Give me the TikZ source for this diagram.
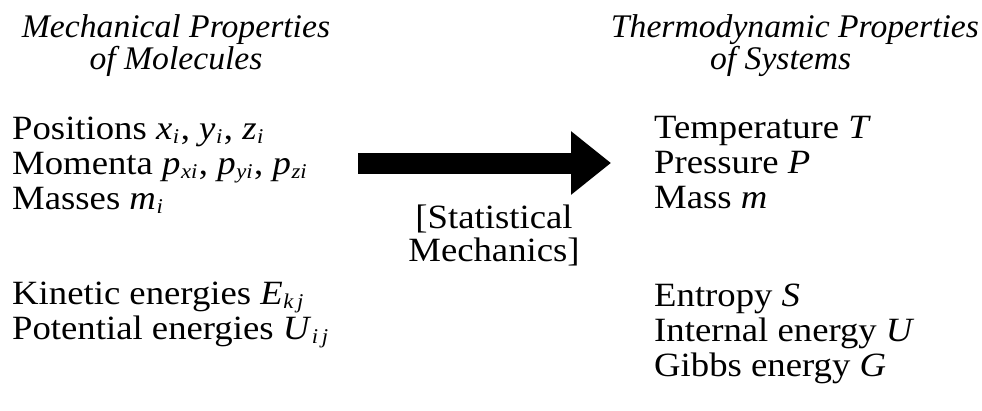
\documentclass[tikz,border=0pt]{standalone}
\usepackage{fontspec}
\setmainfont{Liberation Serif}
\usetikzlibrary{arrows.meta}
\newcommand{\sbi}[1]{\kern0.5pt\raisebox{-0.3ex}{\fontsize{21}{21}\selectfont\itshape #1}\kern1.5pt}
\newcommand{\wideb}[1]{\scalebox{1.08}[1]{#1}}
\newcommand{\widet}[1]{\scalebox{1.02}[1]{#1}}
\tikzset{
  col/.style={inner sep=0pt, anchor=base west, font=\fontsize{34}{35}\selectfont},
  ttl/.style={inner sep=0pt, anchor=base, font=\fontsize{33}{32}\selectfont\itshape},
  lbl/.style={inner sep=0pt, anchor=base, font=\fontsize{34}{32.5}\selectfont},
  bigarrow/.style={line width=21pt, -{Triangle[length=40pt,width=61pt]}}
}
\begin{document}
\begin{tikzpicture}[x=1pt,y=-1pt]
\useasboundingbox[fill=white] (0,0) rectangle (982,410);
% titles
\node[ttl] (tl) at (176,37) {\widet{\begin{tabular}[t]{@{}c@{}}Mechanical Properties\\ of Molecules\end{tabular}}};
\node[ttl] (tr) at (795,37) {\widet{\begin{tabular}[t]{@{}c@{}}Thermodynamic Properties\\ of Systems\hspace*{28pt}\end{tabular}}};
% left column
\node[col] (left) at (12,139) {\wideb{\begin{tabular}[t]{@{}l@{}}
Positions \textit{x}\sbi{i}, \textit{y}\sbi{i}, \textit{z}\sbi{i}\\
Momenta \textit{p}\sbi{xi}, \textit{p}\sbi{yi}, \textit{p}\sbi{zi}\\
Masses \textit{m}\sbi{i}\\[60pt]
Kinetic energies \textit{E}\sbi{k\,j}\\
Potential energies \textit{U}\sbi{i\,j}
\end{tabular}}};
% right column
\node[col] (right) at (654,138) {\wideb{\begin{tabular}[t]{@{}l@{}}
Temperature \textit{T}\\
Pressure \textit{P}\\
Mass \textit{m}\\[63pt]
Entropy \textit{S}\\
Internal energy \textit{U}\\
Gibbs energy \textit{G}
\end{tabular}}};
% arrow
\coordinate (as) at (358,163);
\coordinate (ae) at (611,163);
\draw[bigarrow] (as) -- (ae);
\node[lbl] (stat) at (494,228) {\wideb{\begin{tabular}[t]{@{}c@{}}[Statistical\\ Mechanics]\end{tabular}}};
\end{tikzpicture}
\end{document}
